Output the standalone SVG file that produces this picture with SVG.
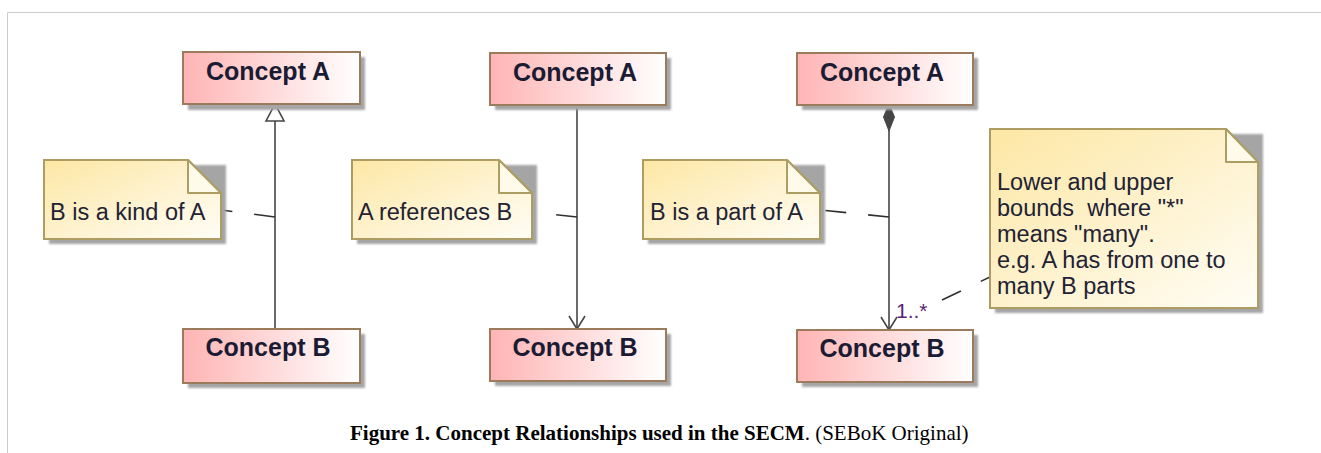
<svg xmlns="http://www.w3.org/2000/svg" width="1321" height="453" viewBox="0 0 1321 453">
<defs>
<linearGradient id="gc" x1="0" y1="0" x2="1" y2="0">
<stop offset="0" stop-color="#ffb4b4"/>
<stop offset="1" stop-color="#ffffff"/>
</linearGradient>
<linearGradient id="gn" x1="0" y1="0" x2="1" y2="1">
<stop offset="0" stop-color="#fde7a4"/>
<stop offset="1" stop-color="#fffdf6"/>
</linearGradient>
<marker id="open" viewBox="0 0 20 20" refX="18" refY="10" markerWidth="20" markerHeight="20" markerUnits="userSpaceOnUse" orient="auto">
<path d="M5,2 L18,10 L5,18" fill="none" stroke="#454545" stroke-width="1.6"/>
</marker>
<filter id="sh" x="-10%" y="-10%" width="130%" height="140%">
<feGaussianBlur stdDeviation="1"/>
</filter>
</defs>
<style>
.frame{stroke:#c8ccd1;stroke-width:1;fill:none}
.box{fill:url(#gc);stroke:#9c7b5c;stroke-width:2}
.shadow{fill:#a5a5a5;filter:url(#sh)}
.ct{font-family:"Liberation Sans",Arial,sans-serif;font-weight:bold;font-size:25px;fill:#1b1b33;text-anchor:middle}
.note{fill:url(#gn);stroke:#ad9d63;stroke-width:2}
.fold{fill:#fffbea;stroke:#ad9d63;stroke-width:2;stroke-linejoin:round}
.nt{font-family:"Liberation Sans",Arial,sans-serif;font-size:23.5px;fill:#222233}
.line{stroke:#454545;stroke-width:1.6;fill:none}
.dash{stroke:#303030;stroke-width:1.6;fill:none;stroke-dasharray:21 22}
.mult{font-family:"Liberation Sans",Arial,sans-serif;font-size:21px;fill:#5a1f78}
.cap{font-family:"Liberation Serif","Times New Roman",serif;font-size:21px;fill:#000}
</style>
<path class="frame" d="M7.5,453 V12.5 H1321"/>

<g id="connectors">
<line class="line" x1="275" y1="121" x2="275" y2="329"/>
<polygon points="275,104 266,121 284,121" fill="#ffffff" stroke="#454545" stroke-width="1.6"/>
<line class="line" x1="577" y1="105" x2="577" y2="329" marker-end="url(#open)"/>
<line class="line" x1="889" y1="130" x2="889" y2="330" marker-end="url(#open)"/>
<polygon points="889,104 883.5,117 889,131 894.5,117" fill="#454545" stroke="#454545" stroke-width="1"/>
<path class="dash" d="M275,217 L221,210"/>
<path class="dash" d="M577,217 L532,212"/>
<path class="dash" d="M889,217 L820,210"/>
<path class="dash" d="M942,300 L992,276"/>
<text class="mult" x="896" y="318">1..*</text>
</g>

<g id="conceptA1">
<rect class="shadow" x="188" y="57" width="177" height="53"/>
<rect class="box" x="183" y="52" width="177" height="52"/>
<text class="ct" x="268" y="80">Concept A</text>
</g>
<g id="conceptB1">
<rect class="shadow" x="188" y="334" width="177" height="54"/>
<rect class="box" x="183" y="329" width="177" height="54"/>
<text class="ct" x="268" y="356">Concept B</text>
</g>
<g id="conceptA2">
<rect class="shadow" x="495" y="58" width="176" height="52"/>
<rect class="box" x="490" y="53" width="176" height="52"/>
<text class="ct" x="575" y="81">Concept A</text>
</g>
<g id="conceptB2">
<rect class="shadow" x="495" y="334" width="176" height="52"/>
<rect class="box" x="490" y="329" width="176" height="52"/>
<text class="ct" x="575" y="356">Concept B</text>
</g>
<g id="conceptA3">
<rect class="shadow" x="802" y="58" width="176" height="52"/>
<rect class="box" x="797" y="53" width="176" height="52"/>
<text class="ct" x="882" y="81">Concept A</text>
</g>
<g id="conceptB3">
<rect class="shadow" x="802" y="335" width="176" height="52"/>
<rect class="box" x="797" y="330" width="176" height="52"/>
<text class="ct" x="882" y="357">Concept B</text>
</g>

<g id="note1">
<path class="shadow" d="M49,165 H226 V244 H49 Z"/>
<path class="note" d="M44,160 H188 L221,193 V239 H44 Z"/>
<path class="fold" d="M188,160 V193 H221 Z"/>
<text class="nt" x="50" y="220">B is a kind of A</text>
</g>
<g id="note2">
<path class="shadow" d="M357,165 H537 V244 H357 Z"/>
<path class="note" d="M352,160 H499 L532,193 V239 H352 Z"/>
<path class="fold" d="M499,160 V193 H532 Z"/>
<text class="nt" x="358" y="220">A references B</text>
</g>
<g id="note3">
<path class="shadow" d="M648,165 H825 V244 H648 Z"/>
<path class="note" d="M643,160 H787 L820,193 V239 H643 Z"/>
<path class="fold" d="M787,160 V193 H820 Z"/>
<text class="nt" x="650" y="220">B is a part of A</text>
</g>
<g id="note4">
<path class="shadow" d="M995,134 H1263 V313 H995 Z"/>
<path class="note" d="M990,129 H1226 L1258,162 V308 H990 Z"/>
<path class="fold" d="M1226,129 V162 H1258 Z"/>
<text class="nt" x="997" y="190">Lower and upper</text>
<text class="nt" x="997" y="216" xml:space="preserve">bounds  where "*"</text>
<text class="nt" x="997" y="242">means "many".</text>
<text class="nt" x="997" y="268">e.g. A has from one to</text>
<text class="nt" x="997" y="294">many B parts</text>
</g>

<text class="cap" x="350" y="440"><tspan font-weight="bold">Figure 1. Concept Relationships used in the SECM</tspan>. (SEBoK Original)</text>
</svg>
